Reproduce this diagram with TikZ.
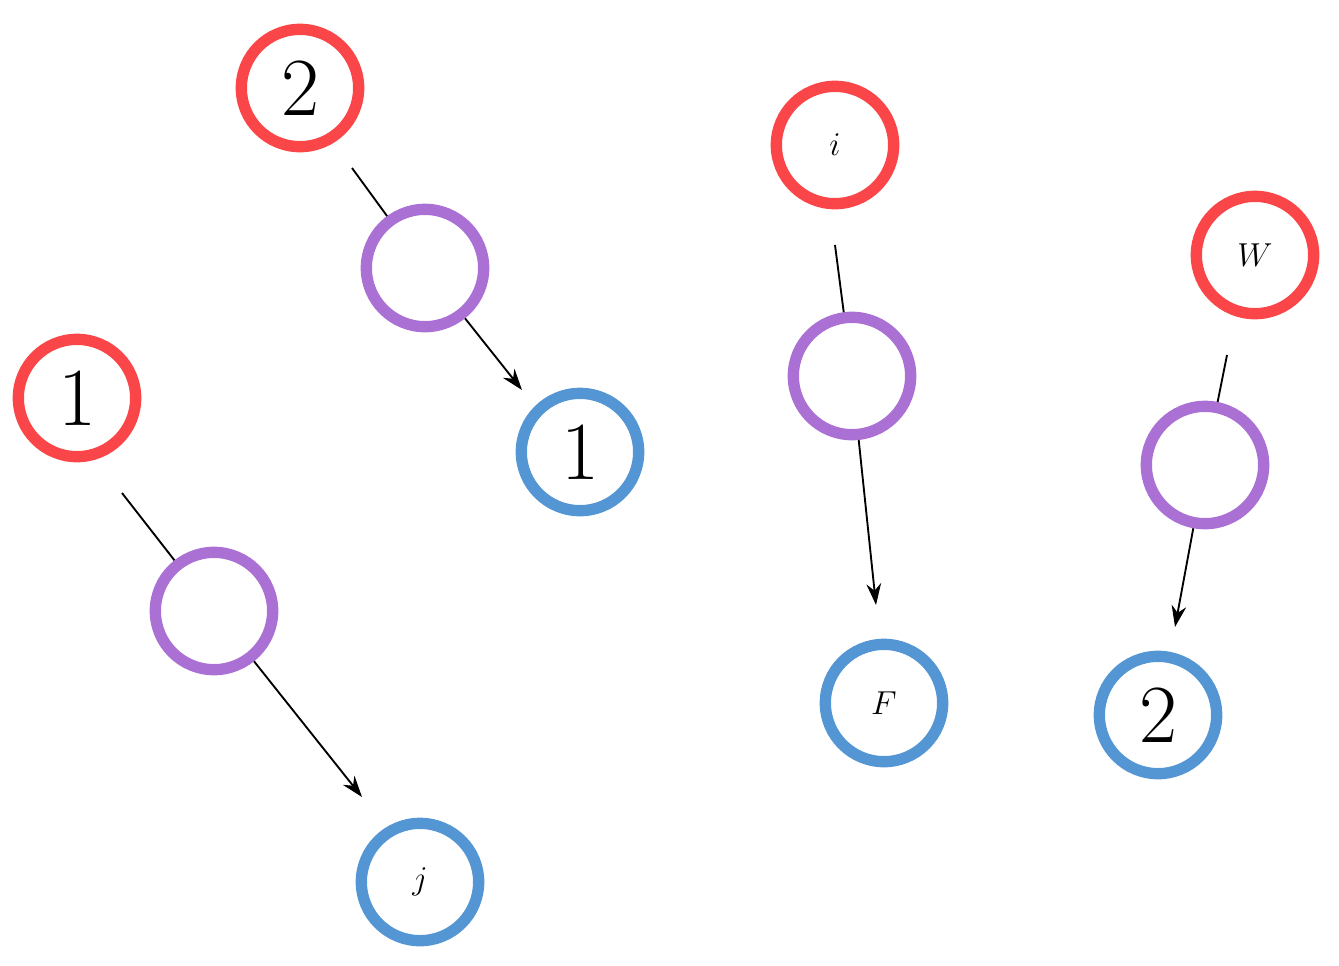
\documentclass[tikz,border=0pt]{standalone}
\usetikzlibrary{arrows.meta}
\begin{document}
\begin{tikzpicture}[x=0.75pt,y=-0.75pt,
  c/.style={circle,minimum size=88pt,inner sep=0pt,line width=8.5pt,font=\fontsize{62}{70}\selectfont},
  r/.style={c,draw={rgb,255:red,250;green,70;blue,72}},
  p/.style={c,draw={rgb,255:red,170;green,112;blue,212}},
  b/.style={c,draw={rgb,255:red,84;green,150;blue,212}},
  e/.style={line width=1.4pt},
  a/.style={line width=1.4pt,-{Stealth[length=16pt,width=11pt]}}]
\useasboundingbox (0,0) rectangle (1339,965);
\node[r] (r2) at (300,88) {2};
\node[p] (p1) at (425,268) {};
\node[b] (b1) at (580,452) {1};
\node[r] (r1) at (77,398) {1};
\node[p] (p2) at (214,611) {};
\node[b] (bj) at (420,882) {$j$};
\node[r] (ri) at (835,145) {$i$};
\node[p] (p3) at (852,376) {};
\node[b] (bF) at (884,703) {$F$};
\node[r] (rW) at (1255,255) {$W$};
\node[p] (p4) at (1205,465) {};
\node[b] (b2) at (1158,715) {2};
\coordinate (s1) at (352,168); \coordinate (t1) at (522,390);
\coordinate (s2) at (122,493); \coordinate (t2) at (362,797);
\coordinate (s3) at (835,245); \coordinate (t3) at (876,605);
\coordinate (s4) at (1227,355); \coordinate (t4) at (1175,627);
\draw[e] (s1) -- (p1); \draw[a] (p1) -- (t1);
\draw[e] (s2) -- (p2); \draw[a] (p2) -- (t2);
\draw[e] (s3) -- (p3); \draw[a] (p3) -- (t3);
\draw[e] (s4) -- (p4); \draw[a] (p4) -- (t4);
\end{tikzpicture}
\end{document}
